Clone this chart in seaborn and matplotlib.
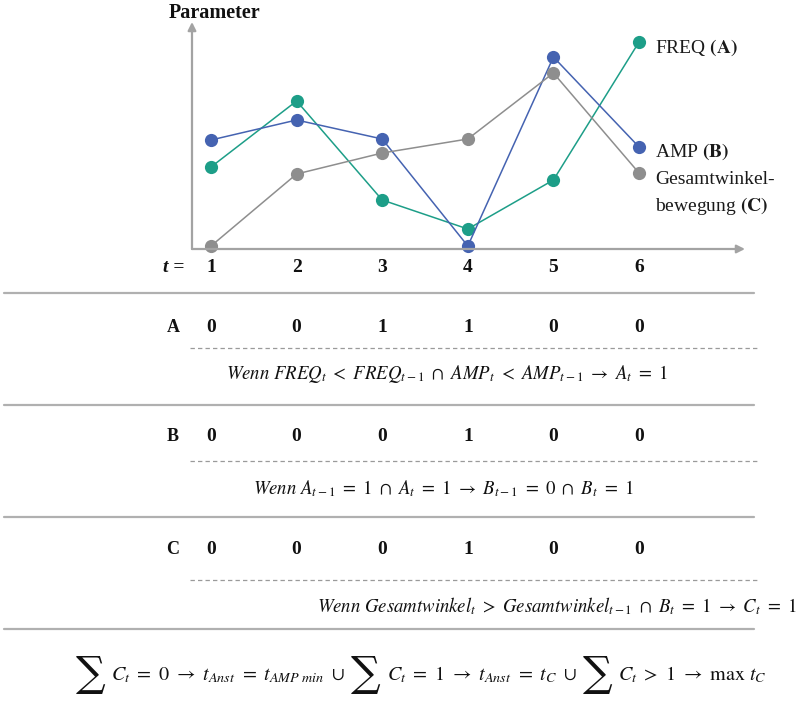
import matplotlib
matplotlib.use('Agg')
import matplotlib.pyplot as plt
import matplotlib.transforms as mtransforms
from matplotlib.lines import Line2D
import seaborn as sns
import pandas as pd

# ---------------- data ----------------
t_values = [1, 2, 3, 4, 5, 6]
freq = [8.2, 14.8, 4.9, 2.0, 6.9, 20.7]
amp = [10.9, 12.9, 11.0, 0.3, 19.2, 10.2]
gesamt = [0.3, 7.5, 9.6, 11.0, 17.6, 7.6]
series_names = ['FREQ', 'AMP', 'Gesamtwinkelbewegung']
series_labels = [r'FREQ $\mathbf{(A)}$', r'AMP $\mathbf{(B)}$',
                 'Gesamtwinkel-', r'bewegung $\mathbf{(C)}$']
row_names = ['A', 'B', 'C']
row_A = [0, 0, 1, 1, 0, 0]
row_B = [0, 0, 0, 1, 0, 0]
row_C = [0, 0, 0, 1, 0, 0]
rules = [
    r'$Wenn\ FREQ_t\ <\ FREQ_{t-1}\ \cap\ AMP_t\ <\ AMP_{t-1}\ \rightarrow\ A_t\ =\ 1$',
    r'$Wenn\ A_{t-1}\ =\ 1\ \cap\ A_t\ =\ 1\ \rightarrow\ B_{t-1}\ =\ 0\ \cap\ B_t\ =\ 1$',
    r'$Wenn\ Gesamtwinkel_t\ >\ Gesamtwinkel_{t-1}\ \cap\ B_t\ =\ 1\ \rightarrow\ C_t\ =\ 1$',
]
sum_sign = '\u2211'
final_pieces = [
    sum_sign,
    r'$C_t\ =\ 0\ \rightarrow\ t_{Anst}\ =\ t_{AMP\ min}\ \cup$',
    sum_sign,
    r'$C_t\ =\ 1\ \rightarrow\ t_{Anst}\ =\ t_C\ \cup$',
    sum_sign,
    r'$C_t\ >\ 1\ \rightarrow\ \max\ t_C$',
]

# ---------------- style ----------------
sns.set_theme(style='white')
plt.rcParams['font.family'] = ['Liberation Serif', 'DejaVu Serif']
plt.rcParams['mathtext.fontset'] = 'stix'

W, H = 797, 708
fig = plt.figure(figsize=(W / 100, H / 100), dpi=100)
fig.patch.set_facecolor('white')


def fy(py):
    return 1 - py / H


# chart axes: y-axis at px 192, x-axis at px 249
ax = fig.add_axes([192 / W, fy(249), (745 - 192) / W, (249 - 22) / H])
ax.set_facecolor('none')

df = pd.DataFrame({
    't': t_values * 3,
    'value': freq + amp + gesamt,
    'series': sum([[n] * len(t_values) for n in series_names], []),
})
palette = {'FREQ': '#1d9e88', 'AMP': '#4563b1', 'Gesamtwinkelbewegung': '#8e8e8e'}
sns.lineplot(data=df, x='t', y='value', hue='series', hue_order=series_names,
             palette=palette, marker='o', markersize=9.5, markeredgewidth=0,
             linewidth=1.1, legend=False, ax=ax, sort=False)
for ln in ax.lines:
    ln.set_clip_on(False)

ax.set_xlim(0.778, 7.238)
ax.set_ylim(0, 22.7)
for s in ax.spines.values():
    s.set_visible(False)
ax.set_yticks([])
ax.set_xticks(t_values, labels=[str(v) for v in t_values],
              fontweight='bold', fontsize=14)
ax.tick_params(axis='x', length=0, pad=7, colors='#111111')
ax.set_xlabel('')
ax.set_ylabel('')
ax.grid(False)

axis_col = '#a3a3a3'
ax.annotate('', xy=(1, 0), xytext=(0, 0), xycoords='axes fraction',
            arrowprops=dict(arrowstyle='-|>', color=axis_col, lw=1.6,
                            mutation_scale=12, shrinkA=0, shrinkB=0))
ax.annotate('', xy=(0, 1), xytext=(0, 0), xycoords='axes fraction',
            arrowprops=dict(arrowstyle='-|>', color=axis_col, lw=1.6,
                            mutation_scale=12, shrinkA=0, shrinkB=0))

txt_col = '#111111'
fig.text(169 / W, fy(13), 'Parameter', fontsize=14.5, fontweight='bold',
         ha='left', va='center', color=txt_col)
fig.text(163 / W, fy(268), 't =', fontsize=14, fontweight='bold',
         fontstyle='italic', ha='left', va='center', color=txt_col)

legend_y = [48, 152, 180, 206]
for lab, yy in zip(series_labels, legend_y):
    fig.text(655 / W, fy(yy), lab, fontsize=14, ha='left', va='center',
             color='#1a1a1a')

# ---------------- table part ----------------
blend = mtransforms.blended_transform_factory(ax.transData, fig.transFigure)
rows = [row_A, row_B, row_C]
row_y = [327, 437, 550]
dash_y = [348, 461, 580]
rule_pos = [(447, 374, 'center'), (443, 489, 'center'), (797, 606, 'right')]
solid_y = [293, 405, 517, 629]

for yy in solid_y:
    fig.add_artist(Line2D([4 / W, 754 / W], [fy(yy), fy(yy)],
                          transform=fig.transFigure, color='#b0b0b0', lw=1.6))
for yy in dash_y:
    fig.add_artist(Line2D([190 / W, 760 / W], [fy(yy), fy(yy)],
                          transform=fig.transFigure, color='#9a9a9a', lw=0.9,
                          linestyle=(0, (3.5, 2.5))))

for name, vals, yy in zip(row_names, rows, row_y):
    fig.text(173 / W, fy(yy), name, fontsize=13, fontweight='bold',
             ha='center', va='center', color=txt_col)
    for tv, v in zip(t_values, vals):
        ax.text(tv, fy(yy), str(v), transform=blend, fontsize=14,
                fontweight='bold', ha='center', va='center', color=txt_col,
                clip_on=False)

for rule, (xx, yy, ha) in zip(rules, rule_pos):
    fig.text(xx / W, fy(yy), rule, fontsize=13.5, ha=ha, va='center',
             color=txt_col)

# bottom formula: pieces laid out one after another, large sum signs
renderer = fig.canvas.get_renderer()
base_y = 680      # baseline of the normal-size pieces (px from top)
sum_center = 674  # vertical centre of the sum signs
gap = 6
objs = []
for piece in final_pieces:
    if piece == sum_sign:
        tt = fig.text(0, fy(sum_center), piece, fontsize=30, ha='left',
                      va='center', color=txt_col, family='DejaVu Serif',
                      fontweight='light')
    else:
        tt = fig.text(0, fy(base_y), piece, fontsize=14.5, ha='left',
                      va='baseline', color=txt_col)
    objs.append(tt)
widths = [o.get_window_extent(renderer).width for o in objs]
total = sum(widths) + gap * (len(objs) - 1)
x = 421 - total / 2
for o, w in zip(objs, widths):
    o.set_x(x / W)
    x += w + gap

fig.savefig('out.png', dpi=100, facecolor='white')
